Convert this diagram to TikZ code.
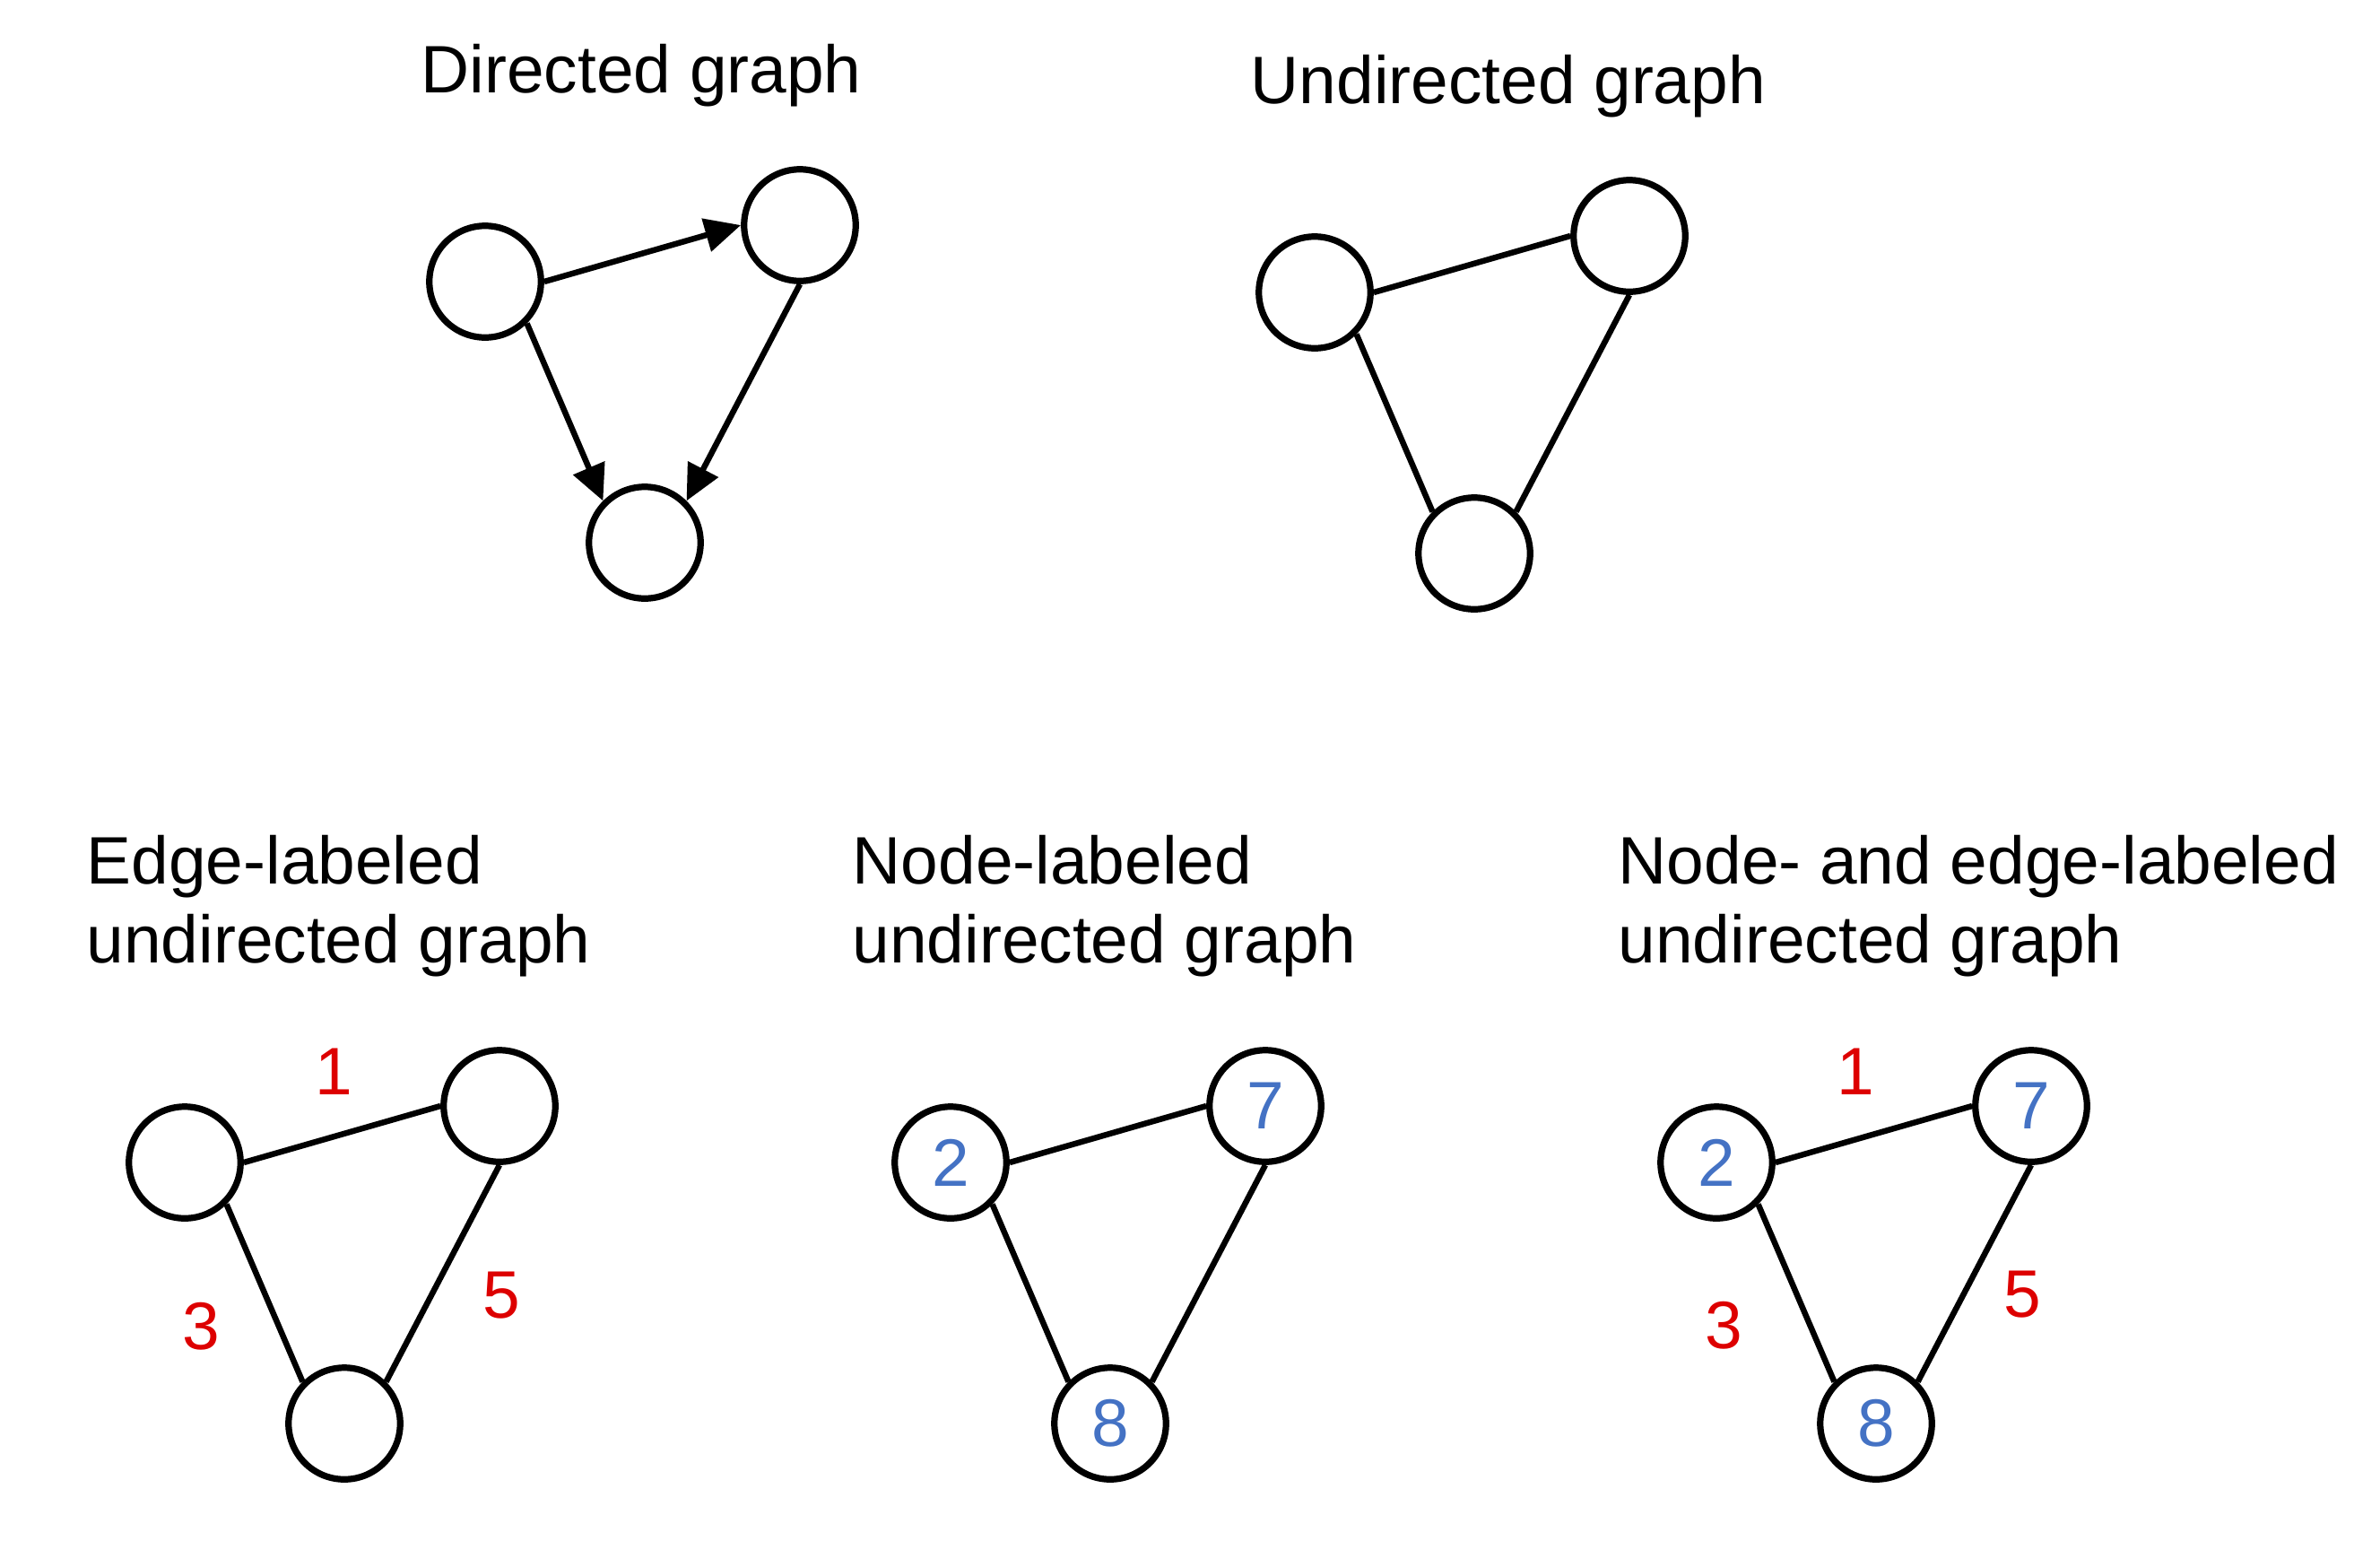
\documentclass[tikz,border=0pt]{standalone}
\usepackage{fontspec}
\setmainfont{Liberation Sans}
\usetikzlibrary{arrows.meta, calc}
\definecolor{weight-red}{HTML}{DD0000}
\definecolor{name-blue}{HTML}{4472C4}
\tikzset{
    my-vertex/.style={
        draw, shape=circle, line width=0.072cm, minimum size=1.245cm, inner sep=0pt,
        text=name-blue, font=\fontsize{21.3}{25}\selectfont
    },
    my-edge/.style={
        line width=0.065cm
    },
    my-arc/.style={
        line width=0.065cm, -{Triangle[length=0.4cm, width=0.37cm]}
    },
    my-title/.style={
        anchor=base west, inner sep=0pt, align=left, font=\fontsize{21.3}{25}\selectfont
    },
    my-weight/.style={
        text=weight-red, inner sep=0pt, font=\fontsize{21.3}{25}\selectfont
    },
}

\begin{document}
\begin{tikzpicture}

        % PAGE FRAME
        \useasboundingbox (0, 0) rectangle (26.54, -17.17);

        % DIRECTED GRAPH
        \node[my-vertex] (DA)     at (5.41, -3.14)             {};
        \node[my-vertex] (DB)     at ($(DA) + (3.51, .63)$)    {};
        \node[my-vertex] (DC)     at ($(DA) + (1.78, -2.91)$)  {};
        \node[my-title]  (DTITLE) at ($(DA) + (-.72, 2.107)$)  {Directed graph};
        \draw[my-arc] (DA.east)  -- (DB.west);
        \draw[my-arc] (DA.-45)   -- (DC.135);
        \draw[my-arc] (DB.south) -- (DC.45);

        % UNDIRECTED GRAPH
        \node[my-vertex] (UA)     at ($(DA) + (9.25, -.12)$)   {};
        \node[my-vertex] (UB)     at ($(UA) + (3.51, .63)$)    {};
        \node[my-vertex] (UC)     at ($(UA) + (1.78, -2.91)$)  {};
        \node[my-title]  (UTITLE) at ($(UA) + (-.72, 2.107)$)  {Undirected graph};
        \draw[my-edge] (UA.east)  -- (UB.west);
        \draw[my-edge] (UA.-45)   -- (UC.135);
        \draw[my-edge] (UB.south) -- (UC.45);

        % EDGE-LABELED UNDIRECTED GRAPH
        % (BASE OF A TWO-LINE TITLE IS ITS SECOND LINE)
        \node[my-vertex] (EA)     at (2.06, -12.96)            {};
        \node[my-vertex] (EB)     at ($(EA) + (3.51, .63)$)    {};
        \node[my-vertex] (EC)     at ($(EA) + (1.78, -2.91)$)  {};
        \node[my-title]  (ETITLE) at ($(EA) + (-1.10, 2.23)$)  {Edge-labeled\\undirected graph};
        \draw[my-edge] (EA.east)  -- (EB.west);
        \draw[my-edge] (EA.-45)   -- (EC.135);
        \draw[my-edge] (EB.south) -- (EC.45);
        \node[my-weight] (EW1) at ($(EA) + (1.66, 1.015)$)  {1};
        \node[my-weight] (EW3) at ($(EA) + (.18, -1.83)$)   {3};
        \node[my-weight] (EW5) at ($(EA) + (3.53, -1.485)$) {5};

        % NODE-LABELED UNDIRECTED GRAPH
        \node[my-vertex] (NA)     at ($(EA) + (8.54, 0)$)      {2};
        \node[my-vertex] (NB)     at ($(NA) + (3.51, .63)$)    {7};
        \node[my-vertex] (NC)     at ($(NA) + (1.78, -2.91)$)  {8};
        \node[my-title]  (NTITLE) at ($(NA) + (-1.10, 2.23)$)  {Node-labeled\\undirected graph};
        \draw[my-edge] (NA.east)  -- (NB.west);
        \draw[my-edge] (NA.-45)   -- (NC.135);
        \draw[my-edge] (NB.south) -- (NC.45);

        % NODE- AND EDGE-LABELED UNDIRECTED GRAPH
        \node[my-vertex] (BA)     at ($(EA) + (17.08, 0)$)     {2};
        \node[my-vertex] (BB)     at ($(BA) + (3.51, .63)$)    {7};
        \node[my-vertex] (BC)     at ($(BA) + (1.78, -2.91)$)  {8};
        \node[my-title]  (BTITLE) at ($(BA) + (-1.10, 2.23)$)  {Node- and edge-labeled\\undirected graph};
        \draw[my-edge] (BA.east)  -- (BB.west);
        \draw[my-edge] (BA.-45)   -- (BC.135);
        \draw[my-edge] (BB.south) -- (BC.45);
        \node[my-weight] (BW1) at ($(BA) + (1.55, 1.015)$)  {1};
        \node[my-weight] (BW3) at ($(BA) + (.08, -1.82)$)   {3};
        \node[my-weight] (BW5) at ($(BA) + (3.41, -1.47)$)  {5};

\end{tikzpicture}
\end{document}
